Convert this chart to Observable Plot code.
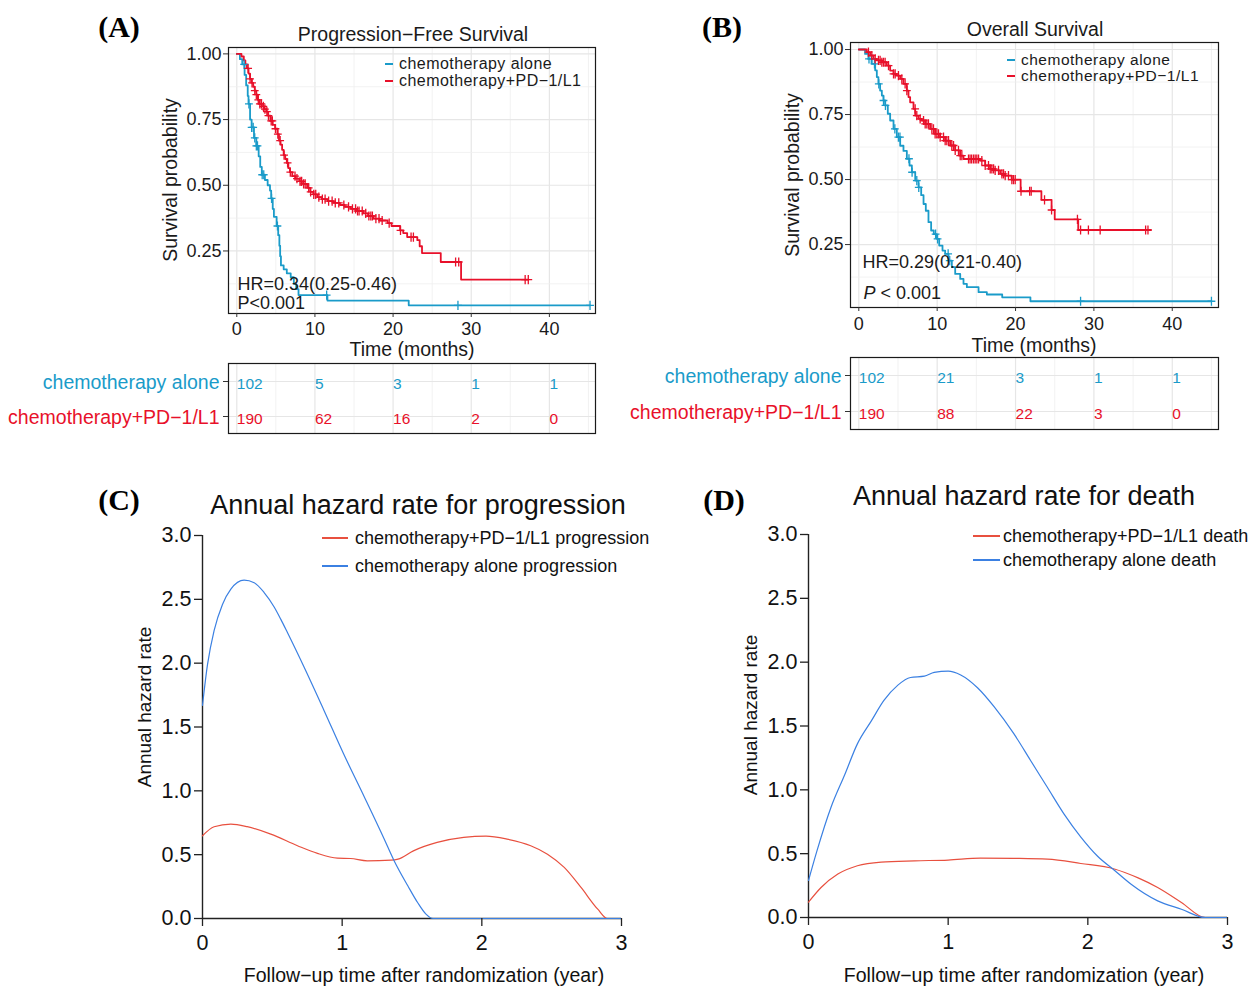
<!DOCTYPE html>
<html><head><meta charset="utf-8">
<script src="https://cdn.jsdelivr.net/npm/d3@7"></script>
<script src="https://cdn.jsdelivr.net/npm/@observablehq/plot@0.6"></script>
<style>
body{margin:0;background:#fff;}
#root{position:relative;width:1255px;height:987px;overflow:hidden;background:#fff;font-family:"Liberation Sans",Arial,sans-serif;}
#root svg{position:absolute;}
</style></head><body><div id="root"></div>
<script>
// ---------------- DATA ----------------
const groups = ["chemotherapy alone", "chemotherapy+PD−1/L1"];

// (A) Progression-free survival, Kaplan–Meier steps (months, survival)
const pfsAloneT = [0, 0.4, 0.7, 1.0, 1.2, 1.4, 1.5, 1.7, 1.9, 2.2, 2.5, 2.8, 3.0, 3.2, 3.6, 3.95, 4.25, 4.4, 4.6, 4.75, 5.1, 5.3, 5.45, 5.55, 5.65, 6.0, 6.4, 6.9, 7.3, 7.6, 7.9, 11.6, 22.0, 45.2];
const pfsAloneS = [1.0, 0.98, 0.96, 0.92, 0.88, 0.84, 0.81, 0.75, 0.72, 0.68, 0.65, 0.61, 0.57, 0.54, 0.52, 0.50, 0.48, 0.45, 0.41, 0.38, 0.345, 0.31, 0.27, 0.23, 0.195, 0.18, 0.165, 0.15, 0.125, 0.105, 0.082, 0.061, 0.043, 0.043];
const pfsAloneCens = [0.94, 1.55, 1.9, 2.1, 2.3, 2.5, 2.65, 3.25, 3.45, 4.45, 5.2, 11.5, 28.3, 45.2];

const pfsPdT = [0, 0.6, 0.9, 1.1, 1.3, 1.5, 1.7, 1.9, 2.1, 2.3, 2.5, 2.7, 2.9, 3.2, 3.5, 3.8, 4.0, 4.3, 4.6, 4.9, 5.2, 5.4, 5.6, 5.8, 6.0, 6.2, 6.4, 6.6, 6.8, 7.1, 7.5, 8.0, 8.5, 9.0, 9.4, 9.8, 10.3, 10.9, 11.6, 12.4, 13.2, 13.8, 14.6, 15.4, 16.2, 16.8, 17.5, 18.3, 19.3, 19.8, 20.9, 21.3, 21.8, 23.1, 23.4, 23.7, 26.1, 28.7, 37.3];
const pfsPdS = [1.0, 0.99, 0.975, 0.96, 0.945, 0.925, 0.905, 0.89, 0.875, 0.86, 0.845, 0.825, 0.81, 0.80, 0.79, 0.78, 0.765, 0.745, 0.73, 0.715, 0.695, 0.67, 0.655, 0.635, 0.615, 0.60, 0.585, 0.565, 0.55, 0.535, 0.525, 0.515, 0.505, 0.49, 0.475, 0.465, 0.455, 0.447, 0.44, 0.433, 0.425, 0.418, 0.41, 0.402, 0.393, 0.383, 0.373, 0.366, 0.356, 0.345, 0.328, 0.318, 0.303, 0.291, 0.268, 0.242, 0.208, 0.141, 0.141];
const pfsPdCens = [1.45, 1.7, 1.95, 2.3, 2.5, 2.75, 2.95, 3.15, 3.4, 3.6, 3.85, 4.05, 4.4, 4.55, 4.95, 5.25, 5.55, 6.05, 6.5, 6.85, 7.45, 7.7, 8.1, 8.3, 8.55, 8.75, 9.2, 9.45, 9.85, 10.1, 10.5, 10.95, 11.3, 11.75, 12.2, 12.6, 13.05, 13.7, 14.3, 14.8, 15.2, 15.45, 15.65, 16.05, 16.5, 16.9, 17.15, 17.35, 17.8, 18.2, 18.6, 19.5, 20.95, 22.3, 22.6, 28.0, 28.4, 36.9, 37.3];

// (B) Overall survival
const osAloneT = [0, 0.8, 1.23, 1.66, 2.09, 2.3, 2.5, 2.72, 2.94, 3.15, 3.36, 3.7, 4.0, 4.43, 4.85, 5.28, 5.7, 6.13, 6.47, 6.77, 7.2, 7.62, 7.96, 8.26, 8.55, 8.89, 9.23, 9.57, 9.96, 10.26, 10.68, 11.02, 11.45, 11.87, 12.3, 12.94, 13.36, 13.79, 15.28, 16.34, 18.3, 21.9, 45.0];
const osAloneS = [1.0, 0.983, 0.964, 0.945, 0.92, 0.894, 0.868, 0.842, 0.823, 0.804, 0.785, 0.753, 0.727, 0.695, 0.663, 0.63, 0.61, 0.58, 0.554, 0.528, 0.496, 0.47, 0.44, 0.406, 0.38, 0.336, 0.304, 0.29, 0.272, 0.246, 0.227, 0.214, 0.188, 0.163, 0.137, 0.118, 0.099, 0.086, 0.067, 0.058, 0.047, 0.032, 0.032];
const osAloneCens = [1.3, 1.6, 2.0, 2.55, 3.15, 3.4, 4.6, 5.05, 5.25, 6.4, 6.8, 7.4, 7.65, 9.8, 10.05, 11.4, 11.6, 28.3, 45.0];

const osPdT = [0, 1.02, 1.45, 1.87, 2.3, 2.94, 3.57, 4.0, 4.43, 4.85, 5.28, 5.7, 6.13, 6.34, 6.55, 6.98, 7.2, 7.62, 8.04, 8.47, 9.1, 9.74, 10.38, 11.02, 11.66, 12.3, 12.94, 13.36, 15.5, 16.13, 16.77, 17.4, 18.04, 18.68, 19.5, 20.65, 23.3, 24.6, 25.0, 28.0, 37.25];
const osPdS = [1.0, 0.99, 0.977, 0.964, 0.958, 0.951, 0.938, 0.919, 0.906, 0.9, 0.887, 0.868, 0.842, 0.817, 0.797, 0.772, 0.746, 0.733, 0.727, 0.714, 0.695, 0.676, 0.663, 0.65, 0.631, 0.612, 0.592, 0.579, 0.573, 0.554, 0.541, 0.535, 0.522, 0.515, 0.50, 0.455, 0.422, 0.383, 0.347, 0.306, 0.306];
const osPdCens = [1.23, 1.66, 2.09, 2.51, 2.72, 2.94, 3.15, 3.36, 3.79, 4.43, 4.64, 5.06, 5.49, 5.91, 6.13, 7.19, 7.4, 7.83, 8.26, 8.47, 8.68, 8.89, 9.32, 9.53, 9.74, 9.96, 10.17, 10.38, 10.81, 11.02, 11.23, 11.45, 11.87, 12.09, 12.3, 12.72, 12.94, 13.15, 14.0, 14.2, 14.4, 14.64, 14.85, 15.06, 15.28, 15.7, 16.13, 16.55, 16.77, 16.98, 17.2, 17.4, 17.83, 18.26, 18.47, 18.68, 19.1, 19.53, 19.74, 19.96, 20.7, 21.8, 22.0, 23.7, 24.6, 27.9, 28.3, 29.3, 30.8, 36.6, 36.9];

// Numbers at risk
const riskTimes = [0, 10, 20, 30, 40];
const riskPfsAlone = [102, 5, 3, 1, 1];
const riskPfsPd = [190, 62, 16, 2, 0];
const riskOsAlone = [102, 21, 3, 1, 1];
const riskOsPd = [190, 88, 22, 3, 0];

const hrPfs = ["HR=0.34(0.25-0.46)", "P<0.001"];
const hrOs = ["HR=0.29(0.21-0.40)", "P", "< 0.001"];

// (C) Annual hazard rate for progression
const hazGroupsC = ["chemotherapy+PD−1/L1 progression", "chemotherapy alone progression"];
const progPdX = [0, 0.083, 0.203, 0.32, 0.489, 0.68, 0.823, 0.966, 1.06, 1.18, 1.35, 1.40, 1.51, 1.68, 1.87, 2.03, 2.18, 2.35, 2.47, 2.59, 2.71, 2.83, 2.90, 3.0];
const progPdY = [0.648, 0.719, 0.739, 0.719, 0.661, 0.57, 0.51, 0.473, 0.47, 0.452, 0.457, 0.465, 0.53, 0.596, 0.635, 0.645, 0.622, 0.57, 0.504, 0.40, 0.243, 0.073, 0, 0];
const progAloneX = [0, 0.036, 0.083, 0.143, 0.203, 0.298, 0.37, 0.44, 0.513, 0.56, 0.608, 0.727, 0.87, 1.01, 1.157, 1.30, 1.37, 1.47, 1.54, 1.60, 1.65, 2.0, 2.5, 3.0];
const progAloneY = [1.67, 1.99, 2.255, 2.46, 2.58, 2.65, 2.63, 2.555, 2.44, 2.345, 2.24, 1.97, 1.63, 1.29, 0.956, 0.625, 0.457, 0.256, 0.125, 0.034, 0, 0, 0, 0];

// (D) Annual hazard rate for death
const hazGroupsD = ["chemotherapy+PD−1/L1 death", "chemotherapy alone death"];
const deathPdX = [0, 0.09, 0.21, 0.35, 0.52, 0.76, 1.0, 1.23, 1.47, 1.71, 1.95, 2.19, 2.36, 2.50, 2.67, 2.84, 3.0];
const deathPdY = [0.12, 0.235, 0.34, 0.405, 0.434, 0.444, 0.45, 0.465, 0.463, 0.457, 0.423, 0.38, 0.31, 0.235, 0.118, 0, 0];
const deathAloneX = [0, 0.06, 0.16, 0.26, 0.35, 0.45, 0.54, 0.64, 0.73, 0.83, 0.90, 1.00, 1.09, 1.21, 1.33, 1.47, 1.59, 1.71, 1.83, 1.95, 2.07, 2.19, 2.31, 2.50, 2.67, 2.84, 3.0];
const deathAloneY = [0.29, 0.52, 0.86, 1.12, 1.36, 1.54, 1.70, 1.82, 1.88, 1.89, 1.92, 1.93, 1.90, 1.80, 1.65, 1.44, 1.23, 1.02, 0.81, 0.63, 0.48, 0.37, 0.26, 0.13, 0.065, 0, 0];

const kmMajorX = [0, 10, 20, 30, 40];
const kmMinorX = [5, 15, 25, 35, 45];
const kmMajorY = [0.25, 0.5, 0.75, 1.0];
const kmMinorY = [0.125, 0.375, 0.625, 0.875];
const hazXTicks = [0, 1, 2, 3];
const hazYTicks = [0, 0.5, 1.0, 1.5, 2.0, 2.5, 3.0];

// ---------------- STYLE ----------------
const kmColors = ["#1a9bc9", "#e8102a"];
const hazColors = ["#e8503f", "#3b80e2"];
const FONT = '"Liberation Sans", Arial, Helvetica, sans-serif';
const plotStyle = {background: "transparent", overflow: "visible", fontFamily: FONT, color: "#1a1a1a"};
const kmXDomain = [-1.06, 45.9];

const root = document.getElementById("root");
function put(svg, left, top) { svg.style.left = left + "px"; svg.style.top = top + "px"; root.appendChild(svg); }
function txt(s, x, y, o = {}) {
  const d = document.createElement("div");
  if (o.html) d.innerHTML = s; else d.textContent = s;
  d.style.cssText = `position:absolute;left:${x}px;top:${y}px;white-space:nowrap;line-height:1;font-size:${o.size || 18}px;color:${o.color || "#1a1a1a"};font-family:${o.family || FONT};font-weight:${o.weight || "normal"};letter-spacing:${o.ls || 0}px;`;
  const ax = o.anchor === "start" ? "0" : o.anchor === "end" ? "-100%" : "-50%";
  d.style.transform = `translate(${ax},-50%)` + (o.rotate ? ` rotate(${o.rotate}deg)` : "");
  root.appendChild(d);
}
function swatch(x1, x2, y, color, w) {
  const d = document.createElement("div");
  d.style.cssText = `position:absolute;left:${x1}px;top:${y - w / 2}px;width:${x2 - x1}px;height:${w}px;background:${color};`;
  root.appendChild(d);
}

function survAt(T, S, t) { let s = S[0]; for (let i = 0; i < T.length; i++) if (T[i] <= t) s = S[i]; return s; }
const plusSym = {draw(ctx, size) { const r = Math.sqrt(size / Math.PI); ctx.moveTo(-r * 0.85, 0); ctx.lineTo(r * 0.85, 0); ctx.moveTo(0, -r); ctx.lineTo(0, r); }};

function kmGrid() {
  return [
    Plot.gridX({ticks: kmMinorX, stroke: "#efefef", strokeOpacity: 1, strokeWidth: 0.8}),
    Plot.gridX({ticks: kmMajorX, stroke: "#e6e6e6", strokeOpacity: 1, strokeWidth: 1.2}),
  ];
}

function kmPlot(o) {
  const steps = [], cens = [];
  o.series.forEach(({T, S, C, g}) => {
    T.forEach((t, i) => steps.push({t, s: S[i], g}));
    C.forEach(t => cens.push({t, s: survAt(T, S, t), g}));
  });
  return Plot.plot({
    width: o.width, height: o.height,
    marginLeft: o.ml, marginRight: o.mr, marginTop: o.mt, marginBottom: o.mb,
    style: plotStyle,
    x: {domain: kmXDomain},
    y: {domain: o.yDomain},
    color: {domain: groups, range: kmColors},
    marks: [
      ...kmGrid(),
      Plot.gridY({ticks: kmMinorY, stroke: "#efefef", strokeOpacity: 1, strokeWidth: 0.8}),
      Plot.gridY({ticks: kmMajorY, stroke: "#e6e6e6", strokeOpacity: 1, strokeWidth: 1.2}),
      Plot.line(steps, {x: "t", y: "s", stroke: "g", curve: "step-after", strokeWidth: 1.8}),
      Plot.dot(cens, {x: "t", y: "s", stroke: "g", symbol: plusSym, r: 4.6, fill: "none", strokeWidth: 1.3}),
      ...o.extra,
      Plot.frame({stroke: "#1a1a1a", strokeWidth: 1.2}),
      Plot.axisX({ticks: kmMajorX, tickSize: 4, tickPadding: o.xpad, fontSize: 18, label: null, stroke: "#333"}),
      Plot.axisY({ticks: kmMajorY, tickSize: 5, tickPadding: 2, tickFormat: d3.format(".2f"), fontSize: 18, label: null, stroke: "#333"})
    ]
  });
}

function riskPlot(o) {
  const rows = [];
  o.series.forEach(({N, g}) => N.forEach((n, i) => rows.push({t: riskTimes[i], n, g})));
  return Plot.plot({
    width: o.width, height: o.height,
    marginLeft: o.ml, marginRight: o.mr, marginTop: o.mt, marginBottom: o.mb,
    style: plotStyle,
    x: {domain: kmXDomain, axis: null},
    y: {type: "point", domain: groups, padding: 0.5, axis: null},
    color: {domain: groups, range: kmColors},
    marks: [
      ...kmGrid(),
      Plot.gridY({stroke: "#e6e6e6", strokeOpacity: 1, strokeWidth: 1.2}),
      Plot.text(rows, {x: "t", y: "g", text: "n", fill: "g", textAnchor: "start", fontSize: 15.5, dy: o.numDy}),
      Plot.text(groups, {y: d => d, text: d => d, fill: d => d, frameAnchor: "left", textAnchor: "end", dx: -9, dy: o.labDy, fontSize: 19.5}),
      Plot.frame({stroke: "#1a1a1a", strokeWidth: 1.2}),
      Plot.axisY({tickSize: 5, tickFormat: () => "", label: null, stroke: "#333"})
    ]
  });
}

function hazPlot(o) {
  const data = [];
  o.series.forEach(({X, Y, g}) => X.forEach((x, i) => data.push({x, y: Y[i], g})));
  return Plot.plot({
    width: o.width, height: o.height,
    marginLeft: o.ml, marginRight: o.mr, marginTop: o.mt, marginBottom: o.mb,
    style: {...plotStyle, color: "#111"},
    x: {domain: [0, 3]},
    y: {domain: [0, 3]},
    color: {domain: o.groups, range: hazColors},
    marks: [
      Plot.ruleX([0], {stroke: "#222", strokeWidth: 1.4}),
      Plot.ruleY([0], {stroke: "#222", strokeWidth: 1.4}),
      Plot.line(data, {x: "x", y: "y", stroke: "g", curve: "monotone-x", strokeWidth: 1.2}),
      Plot.axisX({ticks: hazXTicks, tickSize: 8, tickPadding: 8, tickFormat: d3.format("d"), fontSize: 21.5, label: null, stroke: "#222", strokeWidth: 1.3}),
      Plot.axisY({ticks: hazYTicks, tickSize: 8, tickPadding: 3, tickFormat: d3.format(".1f"), fontSize: 21.5, label: null, stroke: "#222", strokeWidth: 1.3})
    ]
  });
}

// ---------------- PANEL A ----------------
put(kmPlot({
  width: 490, height: 343, ml: 108, mr: 15, mt: 47, mb: 30, xpad: 5,
  yDomain: [0.012, 1.0243],
  series: [
    {T: pfsAloneT, S: pfsAloneS, C: pfsAloneCens, g: groups[0]},
    {T: pfsPdT, S: pfsPdS, C: pfsPdCens, g: groups[1]}
  ],
  extra: [
    Plot.text([hrPfs[0]], {frameAnchor: "bottom-left", dx: 9, dy: -29, textAnchor: "start", lineAnchor: "middle", fontSize: 18, fill: "#1a1a1a"}),
    Plot.text([hrPfs[1]], {frameAnchor: "bottom-left", dx: 9, dy: -10, textAnchor: "start", lineAnchor: "middle", fontSize: 18, fill: "#1a1a1a"})
  ]
}), 120, 0);

put(riskPlot({
  width: 490, height: 100, ml: 108, mr: 15, mt: 13, mb: 17, numDy: 3, labDy: 1,
  series: [{N: riskPfsAlone, g: groups[0]}, {N: riskPfsPd, g: groups[1]}]
}), 120, 350);

// ---------------- PANEL B ----------------
put(kmPlot({
  width: 490, height: 337, ml: 110, mr: 12, mt: 42, mb: 30, xpad: 6,
  yDomain: [0.008, 1.027],
  series: [
    {T: osAloneT, S: osAloneS, C: osAloneCens, g: groups[0]},
    {T: osPdT, S: osPdS, C: osPdCens, g: groups[1]}
  ],
  extra: [
    Plot.text([hrOs[0]], {frameAnchor: "bottom-left", dx: 12, dy: -45, textAnchor: "start", lineAnchor: "middle", fontSize: 18, fill: "#1a1a1a"}),
    Plot.text([hrOs[1]], {frameAnchor: "bottom-left", dx: 13, dy: -14, textAnchor: "start", lineAnchor: "middle", fontSize: 18, fontStyle: "italic", fill: "#1a1a1a"}),
    Plot.text([hrOs[2]], {frameAnchor: "bottom-left", dx: 30, dy: -14, textAnchor: "start", lineAnchor: "middle", fontSize: 18, fill: "#1a1a1a"})
  ]
}), 740, 0);

put(riskPlot({
  width: 490, height: 100, ml: 110, mr: 12, mt: 12, mb: 16, numDy: 3, labDy: 1,
  series: [{N: riskOsAlone, g: groups[0]}, {N: riskOsPd, g: groups[1]}]
}), 740, 345);

// ---------------- PANEL C / D ----------------
put(hazPlot({
  width: 540, height: 487, ml: 102, mr: 19, mt: 35, mb: 69,
  groups: hazGroupsC,
  series: [{X: progPdX, Y: progPdY, g: hazGroupsC[0]}, {X: progAloneX, Y: progAloneY, g: hazGroupsC[1]}]
}), 100, 500);

put(hazPlot({
  width: 545, height: 487, ml: 108, mr: 18, mt: 34, mb: 70,
  groups: hazGroupsD,
  series: [{X: deathPdX, Y: deathPdY, g: hazGroupsD[0]}, {X: deathAloneX, Y: deathAloneY, g: hazGroupsD[1]}]
}), 700, 500);

// ---------------- TEXT: panel labels, titles, axis titles, legends ----------------
const SERIF = '"Liberation Serif", "Times New Roman", serif';
txt("(A)", 119, 27, {size: 30, weight: "bold", family: SERIF, color: "#000"});
txt("(B)", 722, 27, {size: 30, weight: "bold", family: SERIF, color: "#000"});
txt("(C)", 119, 500, {size: 30, weight: "bold", family: SERIF, color: "#000"});
txt("(D)", 724, 500, {size: 30, weight: "bold", family: SERIF, color: "#000"});

txt("Progression−Free Survival", 413, 35, {size: 19.5});
txt("Overall Survival", 1035, 30, {size: 19.5});
txt("Survival probability", 171, 180, {size: 19.5, rotate: -90});
txt("Survival probability", 793, 175, {size: 19.5, rotate: -90});
txt("Time (months)", 412, 350, {size: 19.5});
txt("Time (months)", 1034, 346, {size: 19.5});

// KM legends
swatch(385, 393, 64, kmColors[0], 2.5); txt(groups[0], 399, 64, {anchor: "start", size: 16, ls: 0.45});
swatch(385, 393, 81, kmColors[1], 2.5); txt(groups[1], 399, 81, {anchor: "start", size: 16, ls: 0.45});
swatch(1007, 1015, 60, kmColors[0], 2.5); txt(groups[0], 1021, 60, {anchor: "start", size: 15.5, ls: 0.5});
swatch(1007, 1015, 76, kmColors[1], 2.5); txt(groups[1], 1021, 76, {anchor: "start", size: 15.5, ls: 0.5});

// Hazard titles and axis titles
txt("Annual hazard rate for progression", 418, 505, {size: 27, color: "#111"});
txt("Annual hazard rate for death", 1024, 496, {size: 27, color: "#111"});
txt("Annual hazard rate", 144, 707, {size: 19, rotate: -90, color: "#111"});
txt("Annual hazard rate", 750, 715, {size: 19, rotate: -90, color: "#111"});
txt("Follow−up time after randomization (year)", 424, 976, {size: 19.5, color: "#111"});
txt("Follow−up time after randomization (year)", 1024, 976, {size: 19.5, color: "#111"});

// Hazard legends
swatch(322, 348, 538, hazColors[0], 1.2); txt(hazGroupsC[0], 355, 538, {anchor: "start", size: 18, color: "#111"});
swatch(322, 348, 566, hazColors[1], 1.2); txt(hazGroupsC[1], 355, 566, {anchor: "start", size: 18, color: "#111"});
swatch(973, 1000, 536, hazColors[0], 1.2); txt(hazGroupsD[0], 1003, 536, {anchor: "start", size: 18, color: "#111"});
swatch(973, 1000, 560, hazColors[1], 1.2); txt(hazGroupsD[1], 1003, 560, {anchor: "start", size: 18, color: "#111"});
</script></body></html>
